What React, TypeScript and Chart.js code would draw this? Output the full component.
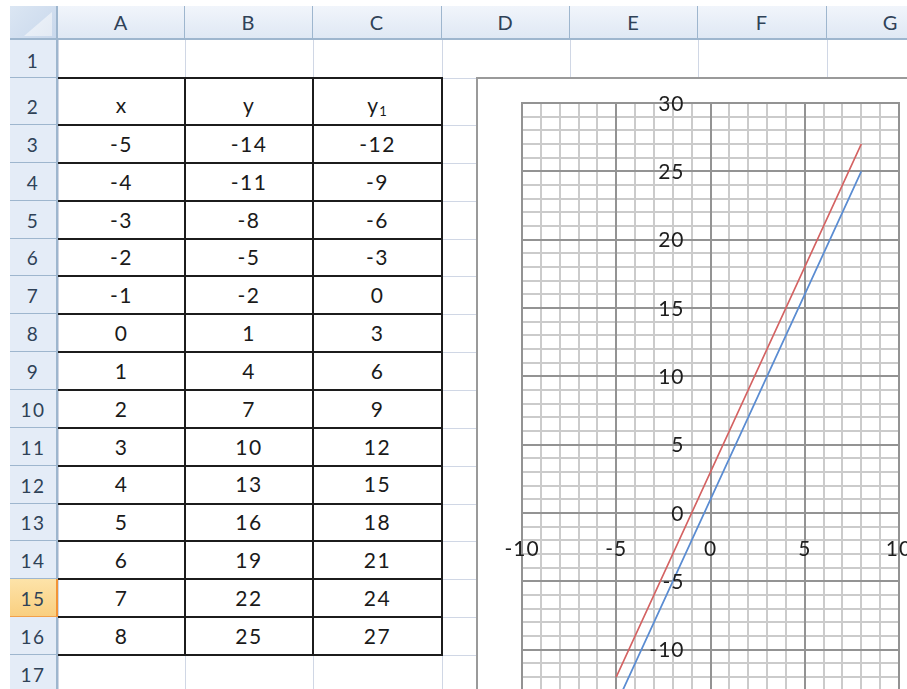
import React, { useEffect, useRef } from "react";
import { Chart, registerables } from "chart.js";

Chart.register(...registerables);

// ---------- data ----------
const columnLetters = ["A", "B", "C", "D", "E", "F", "G"];
const rowNumbers = [1, 2, 3, 4, 5, 6, 7, 8, 9, 10, 11, 12, 13, 14, 15, 16, 17];
const tableHeaders = ["x", "y", "y1"];
const xValues = [-5, -4, -3, -2, -1, 0, 1, 2, 3, 4, 5, 6, 7, 8];
const yValues = [-14, -11, -8, -5, -2, 1, 4, 7, 10, 13, 16, 19, 22, 25];
const y1Values = [-12, -9, -6, -3, 0, 3, 6, 9, 12, 15, 18, 21, 24, 27];
const xTickLabels = [-10, -5, 0, 5, 10];
const yTickLabels = [-15, -10, -5, 0, 5, 10, 15, 20, 25, 30];
const xRange = [-10, 10];
const yRange = [-15, 30];
const selectedRow = 15;

// ---------- layout ----------
const FONT = "Lato, 'Open Sans', sans-serif";
const colEdges = [58, 185, 313, 442, 570, 698, 827, 955];
const rowTop = (r: number) => (r === 1 ? 40 : r === 2 ? 78 : 125 + (r - 3) * 37.85);
const rowBottom = (r: number) => rowTop(r + 1);
const GRID_SHEET = "#d0d7e5";
const HEAD_BORDER = "#9eb6ce";
const HEAD_TEXT = "#2f4257";
const MINOR = "#cbcbcb";
const MAJOR = "#939393";

const abs = (l: number, t: number, w: number, h: number, extra: React.CSSProperties = {}): React.CSSProperties => ({
  position: "absolute",
  left: l,
  top: t,
  width: w,
  height: h,
  boxSizing: "border-box",
  ...extra,
});

function ChartBox() {
  const ref = useRef<HTMLCanvasElement | null>(null);
  useEffect(() => {
    if (!ref.current) return;
    const overlay = {
      id: "overlay",
      beforeDatasetsDraw(chart: any) {
        const { ctx, chartArea, scales } = chart;
        const xs = scales.x;
        const ys = scales.y;
        ctx.save();
        ctx.strokeStyle = MAJOR;
        ctx.lineWidth = 2;
        xs.ticks.forEach((t: any) => {
          if (t.value % 5 === 0) {
            const px = Math.round(xs.getPixelForValue(t.value));
            ctx.beginPath();
            ctx.moveTo(px, chartArea.top - 1);
            ctx.lineTo(px, chartArea.bottom + 1);
            ctx.stroke();
          }
        });
        ys.ticks.forEach((t: any) => {
          if (t.value % 5 === 0) {
            const py = Math.round(ys.getPixelForValue(t.value));
            ctx.beginPath();
            ctx.moveTo(chartArea.left - 1, py);
            ctx.lineTo(chartArea.right + 1, py);
            ctx.stroke();
          }
        });
        ctx.restore();
      },
      afterDraw(chart: any) {
        const { ctx, scales } = chart;
        const xs = scales.x;
        const ys = scales.y;
        ctx.save();
        ctx.font = `21px ${FONT}`;
        ctx.fillStyle = "#1e1e1e";
        try {
          (ctx as any).letterSpacing = "1px";
        } catch (e) {}
        const x0 = xs.getPixelForValue(0);
        const y0 = ys.getPixelForValue(0);
        ctx.textAlign = "right";
        ctx.textBaseline = "middle";
        yTickLabels.forEach((v) => {
          ctx.fillText(String(v), x0 - 26, ys.getPixelForValue(v) + 1);
        });
        ctx.textAlign = "center";
        xTickLabels.forEach((v) => {
          ctx.fillText(String(v), xs.getPixelForValue(v), y0 + 36);
        });
        ctx.restore();
      },
    };
    const chart = new Chart(ref.current, {
      type: "scatter",
      data: {
        datasets: [
          {
            label: "y",
            data: xValues.map((x, i) => ({ x, y: yValues[i] })),
            showLine: true,
            borderColor: "#5a8cd2",
            backgroundColor: "#5a8cd2",
            borderWidth: 1.75,
            pointRadius: 0,
          },
          {
            label: "y1",
            data: xValues.map((x, i) => ({ x, y: y1Values[i] })),
            showLine: true,
            borderColor: "#d46262",
            backgroundColor: "#d46262",
            borderWidth: 1.75,
            pointRadius: 0,
          },
        ],
      },
      options: {
        responsive: false,
        maintainAspectRatio: false,
        animation: false,
        layout: { padding: { left: 46, top: 26, right: 47, bottom: 39 } },
        plugins: { legend: { display: false }, tooltip: { enabled: false } },
        scales: {
          x: {
            type: "linear",
            min: xRange[0],
            max: xRange[1],
            ticks: { display: false, stepSize: 1 },
            grid: { color: MINOR, lineWidth: 2, drawTicks: false },
            border: { display: false },
          },
          y: {
            type: "linear",
            min: yRange[0],
            max: yRange[1],
            ticks: { display: false, stepSize: 1 },
            grid: { color: MINOR, lineWidth: 2, drawTicks: false },
            border: { display: false },
          },
        },
      },
      plugins: [overlay],
    });
    return () => chart.destroy();
  }, []);
  return (
    <>
      <div style={abs(476, 77, 480, 700, { border: "2px solid #9a9a9a", background: "#fff" })} />
      <canvas ref={ref} width={470} height={680} style={abs(476, 77, 470, 680)} />
    </>
  );
}

export default function App() {
  const vLines = colEdges.map((x, i) => (
    <div key={"v" + i} style={abs(x, 40, 1, 660, { background: GRID_SHEET })} />
  ));
  const hLines = rowNumbers.map((r) => (
    <div key={"h" + r} style={abs(58, Math.round(rowBottom(r)), 900, 1, { background: GRID_SHEET })} />
  ));

  const colHeads = columnLetters.map((c, i) => (
    <div
      key={"c" + c}
      style={abs(colEdges[i], 6, colEdges[i + 1] - colEdges[i], 34, {
        background: "linear-gradient(#f1f5fb, #dfe8f4)",
        borderRight: `1px solid ${HEAD_BORDER}`,
        borderBottom: `2px solid ${HEAD_BORDER}`,
        display: "flex",
        alignItems: "center",
        justifyContent: "center",
        color: HEAD_TEXT,
        fontSize: 20,
        letterSpacing: 1,
      })}
    >
      {c}
    </div>
  ));

  const rowHeads = rowNumbers.map((r) => {
    const sel = r === selectedRow;
    const t = Math.round(rowTop(r));
    const b = Math.round(rowBottom(r));
    return (
      <div
        key={"r" + r}
        style={abs(10, t, 48, b - t, {
          background: sel ? "linear-gradient(#fde3a9, #f9cf80)" : "#e4ecf7",
          borderBottom: `1px solid ${sel ? "#f2a04a" : HEAD_BORDER}`,
          borderRight: `2px solid ${sel ? "#f29436" : HEAD_BORDER}`,
          display: "flex",
          alignItems: "flex-end",
          justifyContent: "center",
          paddingBottom: r === 1 ? 7 : 8,
          color: HEAD_TEXT,
          fontSize: 19,
          letterSpacing: 1.5,
          lineHeight: "19px",
        })}
      >
        {r}
      </div>
    );
  });

  const tableRows: React.ReactNode[] = [];
  tableHeaders.forEach((h, ci) => {
    const t = rowTop(2);
    tableRows.push(
      <div
        key={"th" + ci}
        style={abs(colEdges[ci], t, colEdges[ci + 1] - colEdges[ci], rowBottom(2) - t, {
          display: "flex",
          alignItems: "flex-end",
          justifyContent: "center",
          paddingBottom: 10,
          fontSize: 21,
          lineHeight: "21px",
          color: "#1a1a1a",
          letterSpacing: 1,
        })}
      >
        {h === "y1" ? (
          <span>
            y<sub style={{ fontSize: 13, verticalAlign: "-3px", lineHeight: 0 }}>1</sub>
          </span>
        ) : (
          h
        )}
      </div>
    );
  });
  xValues.forEach((xv, i) => {
    const r = 3 + i;
    const t = rowTop(r);
    const vals = [xv, yValues[i], y1Values[i]];
    vals.forEach((v, ci) => {
      tableRows.push(
        <div
          key={"td" + r + "_" + ci}
          style={abs(colEdges[ci], t, colEdges[ci + 1] - colEdges[ci], rowBottom(r) - t, {
            display: "flex",
            alignItems: "flex-end",
            justifyContent: "center",
            paddingBottom: 9,
            fontSize: 21,
            lineHeight: "21px",
            color: "#1a1a1a",
            letterSpacing: 1.5,
          })}
        >
          {String(v)}
        </div>
      );
    });
  });

  const borders: React.ReactNode[] = [];
  for (let r = 2; r <= 17; r++) {
    const y = Math.round(rowTop(r));
    borders.push(<div key={"bh" + r} style={abs(58, y - 1, 442 - 58 + 1, 2, { background: "#1c1c1c" })} />);
  }
  [185, 313, 442].forEach((x) => {
    borders.push(
      <div key={"bv" + x} style={abs(x - 1, Math.round(rowTop(2)) - 1, 2, Math.round(rowTop(17)) - Math.round(rowTop(2)) + 2, { background: "#1c1c1c" })} />
    );
  });

  return (
    <div
      style={{
        position: "fixed",
        left: 0,
        top: 0,
        width: 907,
        height: 689,
        overflow: "hidden",
        background: "#fff",
        fontFamily: FONT,
      }}
    >
      {vLines}
      {hLines}
      {colHeads}
      {rowHeads}
      <div
        style={abs(10, 6, 48, 34, {
          background: "linear-gradient(135deg, #dbe6f3, #c9d8ec)",
          borderRight: `2px solid ${HEAD_BORDER}`,
          borderBottom: `2px solid ${HEAD_BORDER}`,
        })}
      >
        <div
          style={abs(14, 6, 28, 24, {
            background: "linear-gradient(135deg, #eef3f9, #e3eaf4)",
            clipPath: "polygon(100% 0, 100% 100%, 0 100%)",
          })}
        />
      </div>
      {tableRows}
      {borders}
      <ChartBox />
    </div>
  );
}
